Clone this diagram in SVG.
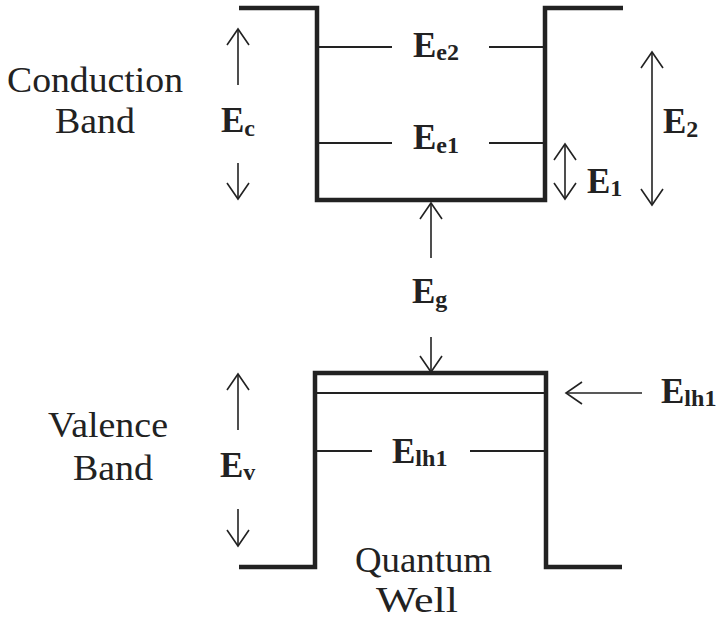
<svg xmlns="http://www.w3.org/2000/svg" width="716" height="621" viewBox="0 0 716 621">
<style>
.well{fill:none;stroke:#222;stroke-width:4.5;stroke-linejoin:miter}
.lvl{fill:none;stroke:#222;stroke-width:2}
.arr{fill:none;stroke:#222;stroke-width:1.6}
.lab{font-family:"Liberation Serif","Times New Roman",serif;font-size:35px;fill:#222}
.e{font-family:"Liberation Serif","Times New Roman",serif;font-size:35px;font-weight:bold;fill:#222}
.sub{font-size:24px}
</style>
<defs>
<marker id="open" viewBox="-18 -12 20 24" markerWidth="20" markerHeight="24" refX="0" refY="0" orient="auto-start-reverse" markerUnits="userSpaceOnUse">
<path d="M-16,-11 L0,0 L-16,11" fill="none" stroke="#222" stroke-width="1.6"/>
</marker>
</defs>
<rect width="716" height="621" fill="#fff"/>
<g id="conduction-well">
<path class="well" d="M239,8 H317 V200 H545 V8 H623"/>
<line class="lvl" x1="317" y1="47" x2="392" y2="47"/>
<line class="lvl" x1="489" y1="47" x2="545" y2="47"/>
<line class="lvl" x1="317" y1="143" x2="392" y2="143"/>
<line class="lvl" x1="489" y1="143" x2="545" y2="143"/>
</g>
<g id="valence-well">
<path class="well" d="M239,567 H315 V373 H546 V567 H622"/>
<line class="lvl" x1="315" y1="393" x2="546" y2="393"/>
<line class="lvl" x1="315" y1="451" x2="372" y2="451"/>
<line class="lvl" x1="470" y1="451" x2="546" y2="451"/>
</g>
<g id="connectors">
<line class="arr" x1="238" y1="85" x2="238" y2="29" marker-end="url(#open)"/>
<line class="arr" x1="238" y1="163" x2="238" y2="199" marker-end="url(#open)"/>
<line class="arr" x1="565" y1="144" x2="565" y2="199" marker-start="url(#open)" marker-end="url(#open)"/>
<line class="arr" x1="652" y1="52" x2="652" y2="205" marker-start="url(#open)" marker-end="url(#open)"/>
<line class="arr" x1="431" y1="258" x2="431" y2="203" marker-end="url(#open)"/>
<line class="arr" x1="431" y1="337" x2="431" y2="372" marker-end="url(#open)"/>
<line class="arr" x1="642" y1="393" x2="566" y2="393" marker-end="url(#open)"/>
<line class="arr" x1="238" y1="430" x2="238" y2="374" marker-end="url(#open)"/>
<line class="arr" x1="238" y1="509" x2="238" y2="546" marker-end="url(#open)"/>
</g>
<g id="band-labels">
<text class="lab" x="7" y="92" textLength="176" lengthAdjust="spacingAndGlyphs">Conduction</text>
<text class="lab" x="55" y="133" textLength="80" lengthAdjust="spacingAndGlyphs">Band</text>
<text class="lab" x="48" y="437" textLength="120" lengthAdjust="spacingAndGlyphs">Valence</text>
<text class="lab" x="73" y="480" textLength="80" lengthAdjust="spacingAndGlyphs">Band</text>
<text class="lab" x="355" y="572" textLength="137" lengthAdjust="spacingAndGlyphs">Quantum</text>
<text class="lab" x="376" y="612" textLength="82" lengthAdjust="spacingAndGlyphs">Well</text>
</g>
<g id="energy-labels">
<text class="e" x="413" y="57">E<tspan class="sub" dy="3">e2</tspan></text>
<text class="e" x="413" y="149">E<tspan class="sub" dy="4">e1</tspan></text>
<text class="e" x="221" y="132">E<tspan class="sub" dy="4">c</tspan></text>
<text class="e" x="587" y="193">E<tspan class="sub" dy="3">1</tspan></text>
<text class="e" x="663" y="133">E<tspan class="sub" dy="4">2</tspan></text>
<text class="e" x="412" y="303">E<tspan class="sub" dy="4">g</tspan></text>
<text class="e" x="661" y="403">E<tspan class="sub" dy="3" font-size="22">lh1</tspan></text>
<text class="e" x="392" y="463">E<tspan class="sub" dy="3">lh1</tspan></text>
<text class="e" x="220" y="477">E<tspan class="sub" dy="3">v</tspan></text>
</g>
</svg>
